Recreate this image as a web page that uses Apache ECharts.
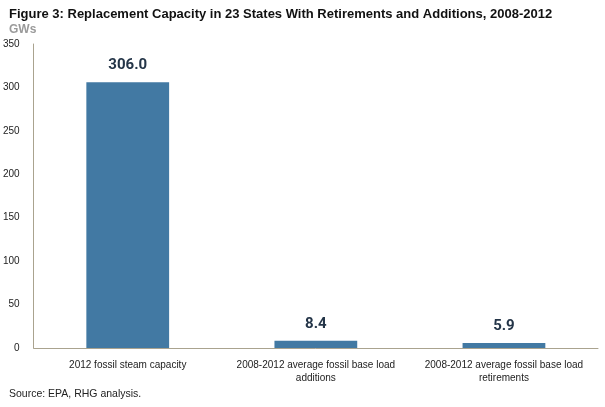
<!DOCTYPE html>
<html><head><meta charset="utf-8">
<script src="https://cdn.jsdelivr.net/npm/echarts@6/dist/echarts.min.js"></script>
<style>html,body{margin:0;padding:0;background:#fff}#c{width:605px;height:407px}</style>
</head><body><div id="c"></div>
<script>
const categories = ['2012 fossil steam capacity', '2008-2012 average fossil base load\nadditions', '2008-2012 average fossil base load\nretirements'];
const values = [306.0, 8.4, 5.9];
const yTicks = [0, 50, 100, 150, 200, 250, 300, 350];

const FONT = '"Liberation Sans", Arial, sans-serif';
const chart = echarts.init(document.getElementById('c'));
chart.setOption({
  animation: false,
  title: [
    {text: 'Figure 3: Replacement Capacity in 23 States With Retirements and Additions, 2008-2012', left: 4, top: 3,
     textStyle: {fontFamily: FONT, fontWeight: 'bold', fontSize: 13, color: '#111'}},
    {text: 'GWs', left: 4, top: 19, textStyle: {fontFamily: FONT, fontWeight: 'bold', fontSize: 12, color: '#9a9a9a'}},
    {text: 'Source: EPA, RHG analysis.', left: 4, top: 384, textStyle: {fontFamily: FONT, fontWeight: 'normal', fontSize: 10.5, color: '#222'}}
  ],
  grid: {left: 33, right: 7, top: 44, bottom: 59, containLabel: false},
  xAxis: {type: 'category', data: categories,
    axisLine: {lineStyle: {color: '#aaa38f', width: 1}}, axisTick: {show: false},
    axisLabel: {fontFamily: FONT, fontSize: 10, color: '#222', margin: 11, lineHeight: 13, interval: 0}},
  yAxis: {type: 'value', min: 0, max: 350, interval: 50,
    axisLine: {show: true, lineStyle: {color: '#aaa38f'}}, axisTick: {show: false}, splitLine: {show: false},
    axisLabel: {fontFamily: FONT, fontSize: 10, color: '#222', margin: 14,
      formatter: v => yTicks.includes(v) ? String(v) : ''}},
  series: [{type: 'bar', data: values, barWidth: '44%', itemStyle: {color: '#4279a3'},
    label: {show: true, position: 'top', distance: 9, formatter: p => p.value.toFixed(1),
      fontFamily: 'Roboto, sans-serif', fontWeight: 'bold', fontSize: 15, color: '#243548'}}]
});
</script></body></html>
